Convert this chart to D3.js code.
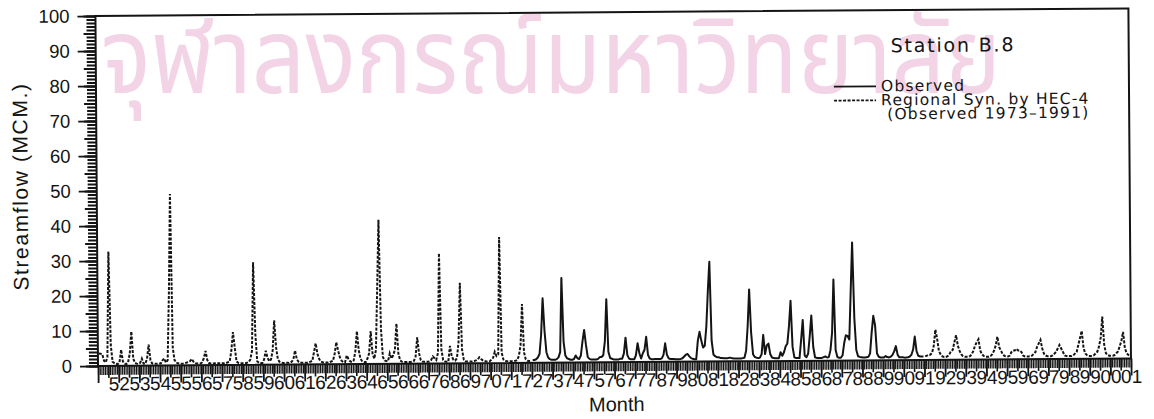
<!DOCTYPE html>
<html>
<head>
<meta charset="utf-8">
<script src="https://cdn.jsdelivr.net/npm/d3@7"></script>
<style>
  html, body { margin: 0; padding: 0; background: #ffffff; }
  svg { display: block; }
</style>
</head>
<body>
<svg id="chart" width="1154" height="419"></svg>
<script>
// Monthly streamflow, Station B.8 (million cubic metres), Jan 1952 – Dec 2001.
const yearLabels = ["52","53","54","55","56","57","58","59","60","61","62","63","64","65","66","67","68","69","70","71",
  "72","73","74","75","76","77","78","79","80","81","82","83","84","85","86","87","88","89","90","91",
  "92","93","94","95","96","97","98","99","00","01"];

// Regional synthetic flows by HEC-4, 1952–1972 (one row of 12 months per year)
const synthetic1952to1972 = [
  [3.6,3.5,3.4,1.5,1.0,2.5,32.7,6.0,1.2,0.8,0.6,0.5],
  [1.0,4.6,1.2,0.6,0.5,1.0,3.5,9.8,2.0,0.8,0.6,0.5],
  [0.8,2.0,0.6,0.5,2.0,6.0,1.5,0.6,0.5,0.5,0.5,0.6],
  [0.6,1.5,2.0,0.8,1.5,21.0,49.0,5.0,1.5,0.8,0.6,0.5],
  [0.5,0.5,0.6,0.8,1.0,1.2,1.8,1.0,0.6,0.5,0.5,0.5],
  [0.8,2.0,4.1,1.5,0.6,0.5,0.5,0.5,0.6,0.5,0.5,0.5],
  [0.5,0.5,0.6,0.8,1.0,4.0,9.4,5.0,1.0,0.6,0.5,0.5],
  [0.5,0.5,0.6,0.8,1.5,4.0,29.3,9.0,1.0,0.6,0.5,0.5],
  [1.5,4.0,2.0,1.0,1.5,4.0,12.7,5.0,1.5,0.8,0.6,0.5],
  [0.5,0.5,0.5,0.6,0.8,1.5,4.0,1.5,0.8,0.5,0.5,0.5],
  [0.5,0.5,0.6,0.8,1.0,3.5,6.0,3.0,1.5,0.8,0.6,0.5],
  [0.5,0.5,0.6,0.8,1.0,3.0,6.3,4.0,2.0,1.0,0.6,0.5],
  [2.5,1.5,0.8,0.6,1.0,3.5,9.4,4.0,1.5,0.8,0.6,0.5],
  [1.5,3.0,9.4,3.0,1.5,4.0,22.0,41.2,10.0,2.0,1.0,0.8],
  [0.8,3.0,1.5,2.5,4.0,11.5,3.0,1.0,0.6,0.5,0.5,0.5],
  [0.5,0.5,0.6,0.8,2.0,7.5,3.0,1.0,0.6,0.5,0.5,0.5],
  [0.6,1.0,2.0,1.5,1.0,3.0,31.5,4.0,1.0,0.6,0.5,0.5],
  [5.0,2.0,1.0,0.8,1.5,6.0,23.0,4.0,1.0,0.6,0.5,0.5],
  [0.5,0.5,0.6,0.8,1.0,1.7,1.2,0.8,0.6,0.5,0.5,0.5],
  [1.0,1.5,3.2,2.0,2.5,36.0,3.0,1.0,0.6,0.5,0.5,0.5],
  [0.5,0.5,0.6,0.8,2.0,5.0,16.8,3.0,1.0,0.6,0.5,0.5]
];

// Observed flows, 1973–1991
const observed1973to1991 = [
  [0.8,0.8,1.0,1.5,2.5,8.0,18.4,9.0,3.0,1.5,1.0,0.8],
  [0.8,0.8,1.0,1.5,3.0,24.2,6.0,2.0,1.2,1.0,0.8,0.8],
  [1.0,2.0,1.2,1.0,2.0,6.0,9.3,5.0,1.5,1.0,0.8,0.8],
  [0.8,0.8,1.0,1.5,1.5,2.0,6.0,18.0,3.0,1.2,1.0,0.8],
  [0.8,0.8,0.8,1.0,1.0,2.5,7.0,2.0,1.0,0.8,0.8,0.8],
  [2.0,5.4,2.5,1.0,2.5,3.5,7.2,2.0,1.0,0.8,0.8,0.8],
  [0.8,0.8,0.8,1.0,2.0,5.3,2.0,1.0,0.8,0.8,0.8,0.7],
  [0.7,0.7,0.8,1.0,1.5,2.0,2.2,1.5,1.0,0.8,0.7,0.7],
  [6.0,8.5,6.0,4.0,4.5,10.0,20.0,28.5,6.0,2.0,1.5,1.2],
  [1.2,1.0,1.0,0.9,0.9,0.9,1.0,1.0,0.9,0.8,0.8,0.8],
  [0.8,0.8,0.9,1.0,3.0,10.0,20.5,8.0,2.0,1.2,1.0,0.9],
  [1.0,2.0,7.5,2.0,4.5,5.0,2.0,1.0,0.9,0.8,0.8,0.8],
  [2.5,1.5,2.5,4.2,5.0,10.0,17.2,4.0,1.0,0.8,0.8,0.8],
  [6.0,11.7,1.5,1.0,2.0,7.0,12.9,4.0,1.0,0.8,0.8,0.8],
  [0.8,1.0,1.2,0.9,1.0,3.0,8.0,23.2,3.0,1.0,0.8,0.8],
  [1.5,5.0,7.2,7.0,6.0,20.0,33.7,12.0,3.0,1.2,1.0,0.9],
  [0.8,0.8,0.9,1.0,2.0,8.0,12.7,10.0,2.0,1.0,0.8,0.8],
  [0.8,1.2,0.9,0.8,1.0,1.5,2.5,4.0,1.5,0.8,0.8,0.8],
  [0.7,0.7,0.8,1.0,1.5,3.0,6.7,2.5,1.2,1.0,1.0,1.0]
];

// Regional synthetic flows by HEC-4, 1992–2001
const synthetic1992to2001 = [
  [1.0,1.2,1.5,1.5,2.0,4.0,8.6,6.0,2.5,1.5,1.0,0.8],
  [0.8,1.0,1.5,2.5,2.8,5.0,7.0,4.0,2.5,1.5,1.0,0.8],
  [0.8,0.8,1.0,1.5,2.5,4.0,5.0,5.8,2.5,1.5,1.0,0.8],
  [0.8,0.8,1.0,1.5,2.5,4.0,6.5,3.5,2.5,1.5,1.0,0.8],
  [0.8,1.0,2.0,2.5,2.5,3.0,2.5,2.5,2.0,1.0,0.8,0.8],
  [0.8,0.8,1.0,1.5,2.0,3.5,4.5,5.5,3.0,1.5,1.0,0.8],
  [0.8,0.8,1.0,1.5,2.0,3.0,4.0,3.0,2.0,1.0,0.8,0.8],
  [0.8,0.8,1.0,1.5,2.0,4.0,6.0,8.0,3.0,1.5,1.0,0.8],
  [0.8,0.8,1.0,1.5,2.0,3.5,6.0,12.0,4.0,1.5,1.0,0.8],
  [0.8,0.8,1.0,1.5,2.0,3.5,5.0,7.6,3.0,1.5,1.0,0.8]
];

const yTicksMajor = [0,10,20,30,40,50,60,70,80,90,100];

// Turn rows of months into {m, v} points, m counted from Jan 1952
function toPoints(rows, firstYear) {
  const pts = [];
  rows.forEach((row, i) => row.forEach((v, k) => {
    pts.push({ m: (firstYear - 1952 + i) * 12 + k, v });
  }));
  return pts;
}

const svg = d3.select("#chart");
const ink = "#141414";

// University watermark behind the chart
svg.append("text")
  .attr("x", 101).attr("y", 93)
  .attr("textLength", 900).attr("lengthAdjust", "spacingAndGlyphs")
  .style("font-family", "'Noto Sans Thai','Noto Sans Thai Looped','Loma','Garuda','Norasi','Noto Sans','DejaVu Sans',sans-serif")
  .style("font-size", "106px")
  .style("fill", "#f3d4e6")
  .text("จุฬาลงกรณ์มหาวิทยาลัย");

const x0 = 98, x1 = 1131, yBase = 366, yTop = 16;
const x = d3.scaleLinear().domain([0, 600]).range([x0, x1]);
const y = d3.scaleLinear().domain([0, 100]).range([yBase, yTop]);

// Whole drawing is turned very slightly, like the printed sheet
const g = svg.append("g")
  .attr("transform", `rotate(-0.42 ${x0} ${yBase})`);

const fontAxis = "'Liberation Sans', Arial, sans-serif";

// Frame
g.append("rect")
  .attr("x", x0).attr("y", yTop)
  .attr("width", x1 - x0).attr("height", yBase - yTop)
  .attr("fill", "none").attr("stroke", ink).attr("stroke-width", 2);

// Y axis: unit ticks, half-decade ticks, decade ticks with labels
function yAxis(values, size, labelled, width) {
  const a = d3.axisLeft(y).tickValues(values).tickSize(size).tickPadding(7);
  if (!labelled) a.tickFormat("");
  const ga = g.append("g").attr("transform", `translate(${x0},0)`).call(a);
  ga.select(".domain").remove();
  ga.selectAll("line").attr("stroke", ink).attr("stroke-width", width);
  ga.selectAll("text").style("font-family", fontAxis).style("font-size", "18.5px").attr("fill", ink);
  return ga;
}
yAxis(d3.range(0, 101, 1), 9, false, 2);
yAxis(d3.range(0, 101, 5), 12, false, 2);
yAxis(yTicksMajor, 18, true, 1.8).selectAll("text").attr("dx", "-1");

// X axis: monthly ticks, year ticks, year labels at the year boundaries
function xAxis(values, size, fmt, width) {
  const a = d3.axisBottom(x).tickValues(values).tickSize(size).tickPadding(4);
  a.tickFormat(fmt || "");
  const ga = g.append("g").attr("transform", `translate(0,${yBase})`).call(a);
  ga.select(".domain").remove();
  ga.selectAll("line").attr("stroke", ink).attr("stroke-width", width);
  return ga;
}
xAxis(d3.range(0, 601, 1), 9, null, 1.2);
xAxis(d3.range(6, 601, 12), 12, null, 1.6);
const gx = xAxis(d3.range(0, 601, 12), 17, m => (m === 0 ? "" : yearLabels[m / 12 - 1]), 1.8);
gx.selectAll("text")
  .attr("y", 11).attr("dy", "0.71em")
  .style("font-family", fontAxis).style("font-size", "19px").attr("fill", ink);

// Axis titles
g.append("text")
  .attr("x", x(300) + 2).attr("y", 415)
  .attr("text-anchor", "middle")
  .style("font-family", fontAxis).style("font-size", "20px").attr("fill", ink)
  .text("Month");
g.append("text")
  .attr("transform", "translate(29,186) rotate(-90)")
  .attr("text-anchor", "middle")
  .style("font-family", fontAxis).style("font-size", "21px").attr("fill", ink)
  .attr("letter-spacing", "1.6")
  .text("Streamflow  (MCM.)");

// Series
const line = d3.line().x(d => x(d.m + 0.5)).y(d => y(d.v));
const syn1 = toPoints(synthetic1952to1972, 1952);
const obs = toPoints(observed1973to1991, 1973);
const syn2 = toPoints(synthetic1992to2001, 1992);

[syn1, syn2].forEach(pts => {
  g.append("path").datum(pts)
    .attr("d", line).attr("fill", "none")
    .attr("stroke", ink).attr("stroke-width", 2)
    .attr("stroke-dasharray", "3,1.5");
});
g.append("path").datum(obs)
  .attr("d", line).attr("fill", "none")
  .attr("stroke", ink).attr("stroke-width", 2)
  .attr("stroke-linejoin", "round");

// Title and legend
const fontLegend = "'DejaVu Sans', Verdana, sans-serif";
g.append("text")
  .attr("x", 893).attr("y", 58)
  .style("font-family", fontLegend).style("font-size", "19px").attr("fill", ink)
  .attr("letter-spacing", "1.8")
  .text("Station  B.8");

const legendItems = [
  { label: "Observed", dash: null, ly: 97 },
  { label: "Regional Syn. by HEC-4", dash: "3,1.5", ly: 111 }
];
legendItems.forEach(it => {
  g.append("line")
    .attr("x1", 836).attr("x2", 878)
    .attr("y1", it.ly - 5).attr("y2", it.ly - 5)
    .attr("stroke", ink).attr("stroke-width", 1.8)
    .attr("stroke-dasharray", it.dash);
  g.append("text")
    .attr("x", 883).attr("y", it.ly)
    .style("font-family", fontLegend).style("font-size", "15.5px").attr("fill", ink)
    .attr("letter-spacing", "1.2")
    .text(it.label);
});
g.append("text")
  .attr("x", 889).attr("y", 125)
  .style("font-family", fontLegend).style("font-size", "15.5px").attr("fill", ink)
  .attr("letter-spacing", "1.2")
  .text("(Observed  1973–1991)");
</script>
</body>
</html>
